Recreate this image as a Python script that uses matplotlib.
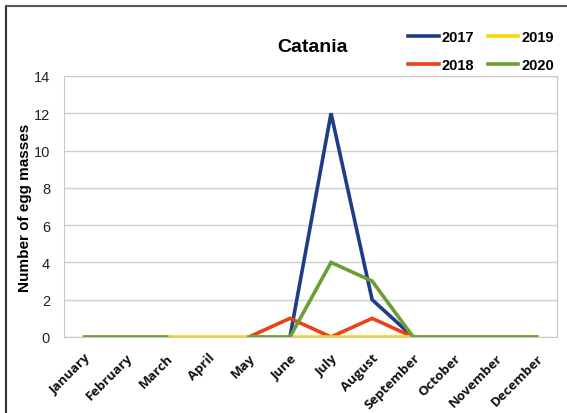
import matplotlib.pyplot as plt
import numpy as np

months = ["January", "February", "March", "April", "May", "June", "July",
          "August", "September", "October", "November", "December"]

nan = np.nan
y2017 = [nan, nan, nan, nan, nan, 0, 12, 2, 0, 0, 0, 0]
y2018 = [nan, nan, nan, nan, 0, 1, 0, 1, 0, 0, 0, 0]
y2019 = [0, 0, 0, 0, 0, 0, 0, 0, 0, 0, 0, 0]
y2020 = [0, 0, 0, nan, 0, 0, 4, 3, 0, 0, 0, 0]

series = [("2017", y2017, "#1f3d87"),
          ("2018", y2018, "#ec4219"),
          ("2019", y2019, "#ffd500"),
          ("2020", y2020, "#6b9e33")]

plt.rcParams['font.family'] = ['Liberation Sans', 'DejaVu Sans']

fig = plt.figure(figsize=(5.67, 4.14), dpi=100)
ax = fig.add_axes([64 / 567, 1 - 338 / 414, 493 / 567, 261 / 414])

x = np.arange(len(months))
lines = {}
for name, vals, col in series:
    ln, = ax.plot(x, vals, color=col, lw=2.6, solid_joinstyle='miter')
    lines[name] = ln

ax.set_xlim(-0.5, 11.5)
ax.set_ylim(0, 14)
ax.set_yticks(range(0, 15, 2))
ax.yaxis.grid(True, color="#d0d0d0", lw=1)
ax.set_axisbelow(True)
ax.tick_params(axis='y', length=0, labelsize=10.5, colors="#222222", pad=10)
ax.tick_params(axis='x', length=0, labelsize=10, colors="#111111", pad=10)
ax.set_xticks(x)
ax.set_xticklabels(months, rotation=45, ha='right', rotation_mode='anchor',
                   fontweight='bold', family=['Open Sans', 'DejaVu Sans'], fontsize=9.5)
for s in ax.spines.values():
    s.set_color("#c8c8c8")
ax.set_ylabel("Number of egg masses", fontweight='bold', fontsize=11)
ax.yaxis.set_label_coords((32 - 64) / 493, 0.5)

fig.text(312 / 567, 1 - 48 / 414, "Catania", ha='center', va='center',
         fontsize=14, fontweight='bold')

order = ["2017", "2018", "2019", "2020"]
ax.legend([lines[k] for k in order], order, ncol=2, frameon=False,
          loc='upper right', bbox_to_anchor=(567 / 567, 1 - 18 / 414),
          bbox_transform=fig.transFigure, prop={'weight': 'bold', 'size': 10.5},
          handlelength=2.1, columnspacing=0.9, labelspacing=0.95, handletextpad=0.2)

# figure frame (left and top edges)
fig.add_artist(plt.Line2D([6 / 567, 6 / 567], [0, 1 - 7 / 414], color="#333333",
                          lw=1.5, transform=fig.transFigure))
fig.add_artist(plt.Line2D([6 / 567, 1], [1 - 7 / 414, 1 - 7 / 414], color="#555555",
                          lw=1.5, transform=fig.transFigure))

fig.savefig("out.png", dpi=100)
